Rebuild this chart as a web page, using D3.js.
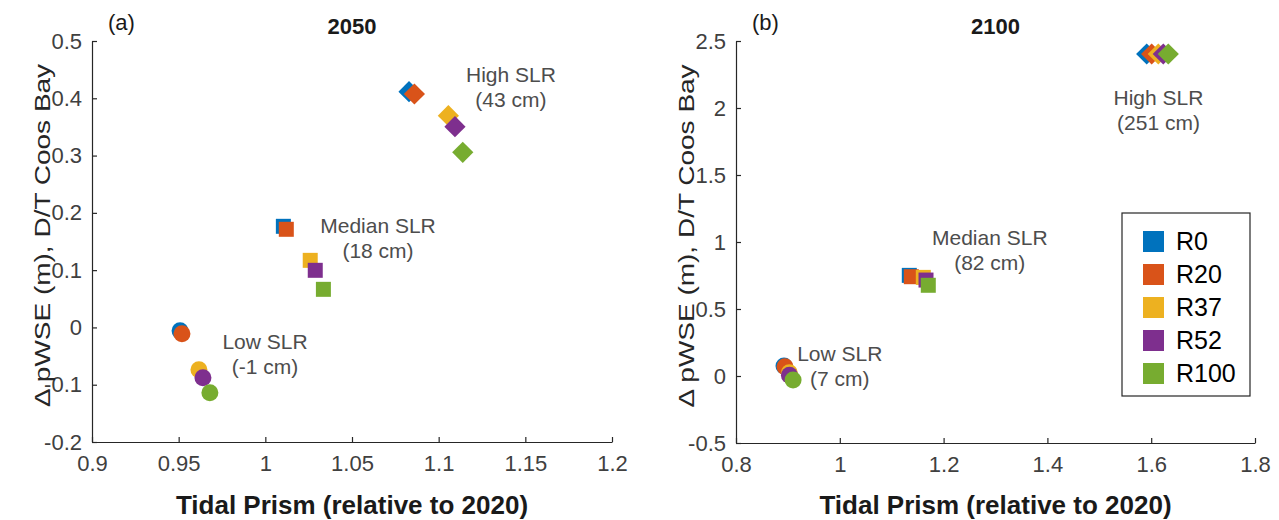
<!DOCTYPE html>
<html>
<head>
<meta charset="utf-8">
<script src="https://cdn.jsdelivr.net/npm/d3@7"></script>
<style>
  body { margin: 0; background: #fff; }
  svg text { font-family: "Liberation Sans", Arial, sans-serif; }
  .axis path, .axis line { stroke: #262626; stroke-width: 1.2; }
  .axis text { fill: #404040; font-size: 22px; }
  .note { fill: #4d4d4d; font-size: 21px; }
</style>
</head>
<body>
<svg width="1279" height="520"></svg>
<script>
// runs, colours
const runs = ["R0", "R20", "R37", "R52", "R100"];
const colors = ["#0072BD", "#D95319", "#EDB120", "#7E2F8E", "#77AC30"];

// 2050 (panel a)
const prism2050Low = [0.9508, 0.9519, 0.9617, 0.9640, 0.9680];
const pwse2050Low = [-0.006, -0.011, -0.074, -0.088, -0.114];
const prism2050Med = [1.0104, 1.0121, 1.0259, 1.0288, 1.0335];
const pwse2050Med = [0.1765, 0.1713, 0.1171, 0.0997, 0.0665];
const prism2050High = [1.0829, 1.0860, 1.1056, 1.1094, 1.1139];
const pwse2050High = [0.4115, 0.4075, 0.3696, 0.3504, 0.3057];

// 2100 (panel b)
const prism2100Low = [0.8925, 0.8944, 0.9027, 0.9030, 0.9100];
const pwse2100Low = [0.075, 0.069, 0.025, 0.006, -0.030];
const prism2100Med = [1.1339, 1.1378, 1.1609, 1.1661, 1.1705];
const pwse2100Med = [0.751, 0.741, 0.736, 0.716, 0.677];
const prism2100High = [1.5913, 1.6009, 1.6137, 1.6233, 1.6329];
const pwse2100High = [2.403, 2.403, 2.403, 2.403, 2.403];

const xTicksA = [0.9, 0.95, 1, 1.05, 1.1, 1.15, 1.2];
const yTicksA = [-0.2, -0.1, 0, 0.1, 0.2, 0.3, 0.4, 0.5];
const xTicksB = [0.8, 1, 1.2, 1.4, 1.6, 1.8];
const yTicksB = [-0.5, 0, 0.5, 1, 1.5, 2, 2.5];

const svg = d3.select("svg");

const panels = [
  {
    left: 92, right: 612, top: 41, bottom: 442,
    xDomain: [0.9, 1.2], yDomain: [-0.2, 0.5], xTicks: xTicksA, yTicks: yTicksA,
    tag: "(a)", title: "2050",
    groups: [
      {shape: "circle", x: prism2050Low, y: pwse2050Low},
      {shape: "square", x: prism2050Med, y: pwse2050Med},
      {shape: "diamond", x: prism2050High, y: pwse2050High}
    ],
    notes: [
      {x: 1.1417, y: 0.428, lines: ["High SLR", "(43 cm)"]},
      {x: 1.065, y: 0.164, lines: ["Median SLR", "(18 cm)"]},
      {x: 0.9998, y: -0.037, lines: ["Low SLR", "(-1 cm)"]}
    ]
  },
  {
    left: 736, right: 1255, top: 41, bottom: 443,
    xDomain: [0.8, 1.8], yDomain: [-0.5, 2.5], xTicks: xTicksB, yTicks: yTicksB,
    tag: "(b)", title: "2100",
    groups: [
      {shape: "circle", x: prism2100Low, y: pwse2100Low},
      {shape: "square", x: prism2100Med, y: pwse2100Med},
      {shape: "diamond", x: prism2100High, y: pwse2100High}
    ],
    notes: [
      {x: 1.614, y: 2.02, lines: ["High SLR", "(251 cm)"]},
      {x: 1.289, y: 0.98, lines: ["Median SLR", "(82 cm)"]},
      {x: 1.0, y: 0.115, lines: ["Low SLR", "(7 cm)"]}
    ]
  }
];

function marker(shape) {
  if (shape === "circle") return d3.symbol(d3.symbolCircle, 227)();
  return d3.symbol(d3.symbolSquare, 225)();
}

panels.forEach(function(p) {
  const x = d3.scaleLinear().domain(p.xDomain).range([p.left, p.right]);
  const y = d3.scaleLinear().domain(p.yDomain).range([p.bottom, p.top]);

  const g = svg.append("g");

  g.append("g")
    .attr("class", "axis")
    .attr("transform", `translate(0,${p.bottom})`)
    .call(d3.axisBottom(x).tickValues(p.xTicks).tickSizeInner(-5).tickSizeOuter(0)
      .tickPadding(13).tickFormat(d => String(d)));

  g.append("g")
    .attr("class", "axis")
    .attr("transform", `translate(${p.left},0)`)
    .call(d3.axisLeft(y).tickValues(p.yTicks).tickSizeInner(-5).tickSizeOuter(0)
      .tickPadding(10).tickFormat(d => String(d)));

  // points
  p.groups.forEach(function(grp) {
    runs.forEach(function(r, i) {
      g.append("path")
        .attr("d", marker(grp.shape))
        .attr("fill", colors[i])
        .attr("transform", `translate(${x(grp.x[i])},${y(grp.y[i])})` + (grp.shape === "diamond" ? " rotate(45)" : ""));
    });
  });

  // annotations
  p.notes.forEach(function(n) {
    const t = g.append("text")
      .attr("class", "note")
      .attr("text-anchor", "middle")
      .attr("x", x(n.x))
      .attr("y", y(n.y));
    n.lines.forEach(function(line, k) {
      t.append("tspan").attr("x", x(n.x)).attr("dy", k === 0 ? 0 : 25).text(line);
    });
  });

  const cx = (p.left + p.right) / 2;

  g.append("text")
    .attr("x", cx).attr("y", 34)
    .attr("text-anchor", "middle")
    .attr("font-weight", "bold")
    .attr("font-size", 22)
    .attr("fill", "#1a1a1a")
    .text(p.title);

  g.append("text")
    .attr("x", p.left + 16).attr("y", 30)
    .attr("font-size", 22)
    .attr("fill", "#1a1a1a")
    .text(p.tag);

  g.append("text")
    .attr("x", cx).attr("y", 514)
    .attr("text-anchor", "middle")
    .attr("font-weight", "bold")
    .attr("font-size", 26)
    .attr("fill", "#1a1a1a")
    .text("Tidal Prism (relative to 2020)");

  // y label: long and thin like the reference
  g.append("text")
    .attr("transform", `translate(${p.left - 42},${(p.top + p.bottom) / 2 - 6}) scale(0.8,1) rotate(-90)`)
    .attr("text-anchor", "middle")
    .attr("font-size", 28)
    .attr("fill", "#262626")
    .text("Δ pWSE (m), D/T Coos Bay");
});

// legend
const legend = svg.append("g").attr("transform", "translate(1122,213)");
legend.append("rect")
  .attr("width", 128).attr("height", 183)
  .attr("fill", "#fff").attr("stroke", "#262626").attr("stroke-width", 1.2);
runs.forEach(function(r, i) {
  legend.append("rect")
    .attr("x", 21).attr("y", 18 + i * 33)
    .attr("width", 21).attr("height", 21)
    .attr("fill", colors[i]);
  legend.append("text")
    .attr("x", 54).attr("y", 37 + i * 33)
    .attr("font-size", 25)
    .attr("fill", "#000")
    .text(r);
});
</script>
</body>
</html>
